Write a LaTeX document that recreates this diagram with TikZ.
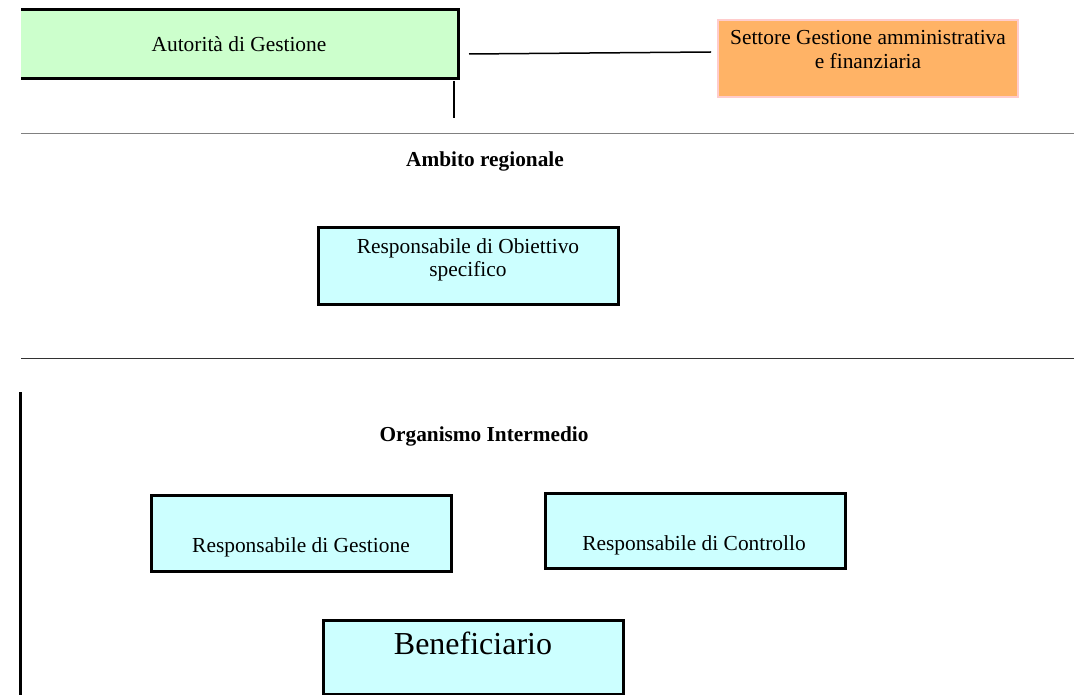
\documentclass[tikz,border=0pt]{standalone}
\usepackage{fontspec}
\setmainfont{Liberation Serif}
\begin{document}
\begin{tikzpicture}[x=1pt,y=-1pt,
  box/.style={draw=black,line width=3pt,fill=cyanfill,inner sep=0pt,outer sep=0pt},
  txt/.style={font=\fontsize{21.4}{23.5}\selectfont,align=center,inner sep=0pt},
  head/.style={font=\fontsize{21.3}{23.5}\selectfont\bfseries,inner sep=0pt},
  sep/.style={line width=1.6pt}]
\definecolor{cyanfill}{RGB}{204,255,255}
\definecolor{greenfill}{RGB}{204,255,204}
\definecolor{orangefill}{RGB}{255,179,102}
\definecolor{pinkedge}{RGB}{255,204,204}
\definecolor{rulegray}{RGB}{128,128,128}
\definecolor{ruledark}{RGB}{50,50,50}
\useasboundingbox (0,0) rectangle (1074,695);

% Managing authority: open on the left edge
\node[fill=greenfill,minimum width=437pt,minimum height=68pt,inner sep=0pt,anchor=north west] (ag) at (21,10) {};
\draw[line width=3pt] (ag.north west) -- (ag.north east) -- (ag.south east) -- (ag.south west);
\node[txt] (agt) at (239,44) {Autorità di Gestione};

% Administrative and financial sector
\node[fill=orangefill,draw=pinkedge,line width=2pt,minimum width=300pt,minimum height=77pt,inner sep=0pt,anchor=north west] (sg) at (717,19) {};
\node[txt,anchor=north] (sgt) at ([yshift=-11.5pt]sg.north) {Settore Gestione amministrativa\\e finanziaria};

% Connectors from the authority
\coordinate (c1) at (469,54);
\coordinate (c2) at (711,52);
\draw[line width=1.5pt] (c1) -- (c2);
\coordinate (v1) at (454,81);
\coordinate (v2) at (454,118);
\draw[line width=1.5pt] (v1) -- (v2);

% Section rules
\coordinate (r1a) at (21,133.5);
\coordinate (r1b) at (1074,133.5);
\draw[sep,rulegray] (r1a) -- (r1b);
\coordinate (r2a) at (21,358.5);
\coordinate (r2b) at (1074,358.5);
\draw[sep,ruledark] (r2a) -- (r2b);
\coordinate (l1) at (20,392);
\coordinate (l2) at (20,695);
\draw[line width=3pt] (l1) -- (l2);

% Regional level
\node[head] (amb) at (485,161) {Ambito regionale};
\node[box,minimum width=300pt,minimum height=76pt,anchor=north west] (obj) at (318,228) {};
\node[txt,anchor=north] (objt) at ([yshift=-10pt]obj.north) {Responsabile di Obiettivo\\specifico};

% Intermediate body
\node[head] (oi) at (484,436) {Organismo Intermedio};
\node[box,minimum width=300pt,minimum height=76pt,anchor=north west] (rg) at (151,495) {};
\node[txt] (rgt) at (301,547) {Responsabile di Gestione};
\node[box,minimum width=300pt,minimum height=75pt,anchor=north west] (rc) at (545,493) {};
\node[txt] (rct) at (694,545) {Responsabile di Controllo};

% Beneficiary
\node[box,minimum width=300pt,minimum height=74pt,anchor=north west] (ben) at (323,620) {};
\node[font=\fontsize{32}{36}\selectfont,inner sep=0pt] (bent) at (473,643.5) {Beneficiario};
\end{tikzpicture}
\end{document}
